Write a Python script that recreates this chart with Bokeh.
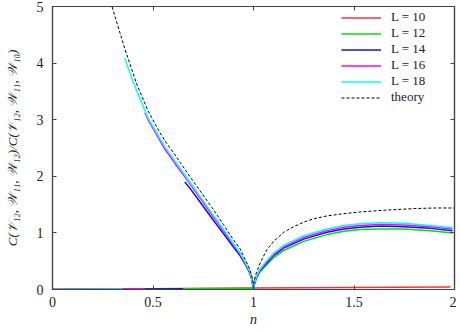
from bokeh.plotting import figure
from bokeh.models import Range1d, LinearAxis, FixedTicker, Legend, LegendItem
from bokeh.embed import file_html
from bokeh.resources import INLINE

# ---- data ----
x_ticks = [0, 0.5, 1, 1.5, 2]
x_tick_labels = ["0", "0.5", "1", "1.5", "2"]
y_ticks = [0, 1, 2, 3, 4, 5]
y_tick_labels = ["0", "1", "2", "3", "4", "5"]

theory_left_n = [0.28, 0.296, 0.33, 0.36, 0.42, 0.475, 0.52, 0.559, 0.617, 0.675,
                 0.733, 0.793, 0.85, 0.90, 0.933, 0.96, 0.98, 0.99, 0.997, 1.0]
theory_left_y = [5.25, 5.0, 4.6, 4.25, 3.62, 3.16, 2.86, 2.63, 2.34, 2.04,
                 1.75, 1.45, 1.15, 0.88, 0.72, 0.52, 0.37, 0.26, 0.15, 0.0]
theory_right_n = [1.0, 1.003, 1.01, 1.02, 1.04, 1.066, 1.1, 1.15, 1.2, 1.25,
                  1.3, 1.365, 1.45, 1.53, 1.65, 1.8, 1.9, 2.0]
theory_right_y = [0.0, 0.14, 0.25, 0.35, 0.52, 0.70, 0.85, 1.01, 1.11, 1.19,
                  1.25, 1.30, 1.34, 1.37, 1.40, 1.43, 1.44, 1.44]

right_n = [1.0, 1.005, 1.015, 1.03, 1.066, 1.1, 1.15, 1.25, 1.365, 1.45,
           1.53, 1.63, 1.75, 1.88, 1.99]

# L = 10
L10_low_n = [0.0, 1.0, 1.98]
L10_low_y = [0.0, 0.025, 0.045]

# L = 12
L12_low_n = [0.0, 1.0]
L12_low_y = [0.0, 0.02]
L12_right_y = [0.0, 0.10, 0.20, 0.30, 0.44, 0.56, 0.69, 0.85, 0.97, 1.03,
               1.06, 1.07, 1.07, 1.04, 1.00]

# L = 14
L14_low_n = [0.0, 0.65]
L14_low_y = [0.0, 0.015]
L14_left_n = [0.658, 0.675, 0.733, 0.793, 0.85, 0.90, 0.933, 0.96, 0.98, 0.99, 1.0]
L14_left_y = [1.90, 1.83, 1.55, 1.26, 0.99, 0.75, 0.60, 0.44, 0.30, 0.20, 0.0]
L14_right_y = [0.0, 0.11, 0.22, 0.32, 0.47, 0.60, 0.73, 0.89, 1.01, 1.07,
               1.10, 1.12, 1.11, 1.08, 1.04]

# L = 16
L16_low_n = [0.0, 0.46]
L16_low_y = [0.0, 0.012]
L16_left_n = [0.46, 0.475, 0.559, 0.617, 0.675, 0.733, 0.793, 0.85, 0.90, 0.933,
              0.96, 0.98, 0.99, 1.0]
L16_left_y = [3.13, 3.0, 2.48, 2.19, 1.91, 1.62, 1.32, 1.04, 0.79, 0.63,
              0.46, 0.32, 0.21, 0.0]
L16_right_y = [0.0, 0.11, 0.23, 0.33, 0.49, 0.62, 0.75, 0.92, 1.04, 1.10,
               1.13, 1.15, 1.14, 1.11, 1.07]

# L = 18
L18_low_n = [0.0, 0.35]
L18_low_y = [0.0, 0.01]
L18_left_n = [0.359, 0.40, 0.475, 0.559, 0.617, 0.675, 0.733, 0.793, 0.85, 0.90,
              0.933, 0.96, 0.98, 0.99, 1.0]
L18_left_y = [4.09, 3.68, 3.03, 2.52, 2.23, 1.94, 1.65, 1.35, 1.07, 0.81,
              0.65, 0.47, 0.33, 0.22, 0.0]
L18_right_y = [0.0, 0.12, 0.24, 0.35, 0.51, 0.64, 0.78, 0.95, 1.07, 1.13,
               1.16, 1.18, 1.17, 1.13, 1.09]

labels = ["L = 10", "L = 12", "L = 14", "L = 16", "L = 18", "theory"]
colors = ["#ff3030", "#00e000", "#1010e0", "#ff00ff", "#00ffff", "black"]

# ---- figure ----
FONT = "Liberation Serif"
AX = "#444444"
TXT = "#222222"

p = figure(width=456, height=332, output_backend="svg", toolbar_location=None,
           x_range=Range1d(0, 2), y_range=Range1d(0, 5),
           min_border_left=52, min_border_right=2, min_border_top=6, min_border_bottom=43)
p.background_fill_color = "white"
p.border_fill_color = "white"
p.grid.visible = False
p.outline_line_color = AX
p.outline_line_width = 1.2

def style_axis(ax, show_labels):
    ax.axis_line_color = AX
    ax.axis_line_width = 1.2
    ax.major_tick_line_color = AX
    ax.major_tick_in = 4
    ax.major_tick_out = 0
    ax.minor_tick_line_color = None
    ax.major_label_text_font = FONT
    if show_labels:
        ax.major_label_text_font_size = "14px"
        ax.major_label_text_color = TXT
    else:
        ax.major_label_text_font_size = "0px"
        ax.major_label_text_color = None
        ax.major_label_standoff = 0

xb = p.xaxis[0]
yl = p.yaxis[0]
xb.ticker = FixedTicker(ticks=x_ticks)
yl.ticker = FixedTicker(ticks=y_ticks)
xb.major_label_overrides = dict(zip(x_ticks, x_tick_labels))
yl.major_label_overrides = dict(zip(y_ticks, y_tick_labels))
style_axis(xb, True)
style_axis(yl, True)
xb.major_label_standoff = 7
yl.major_label_standoff = 9

xb.axis_label = "n"
xb.axis_label_text_font = FONT
xb.axis_label_text_font_style = "italic"
xb.axis_label_text_font_size = "14px"
xb.axis_label_text_color = TXT
xb.axis_label_standoff = 2

yl.axis_label = "C(\U0001D4B1\u2081\u2082, \U0001D4B2\u2081\u2081, \U0001D4B2\u2081\u2082)/C(\U0001D4B1\u2081\u2082, \U0001D4B2\u2081\u2081, \U0001D4B2\u2081\u2080)"
yl.axis_label_text_font = FONT
yl.axis_label_text_font_style = "italic"
yl.axis_label_text_font_size = "13px"
yl.axis_label_text_color = TXT
yl.axis_label_standoff = 14

xt = LinearAxis(ticker=FixedTicker(ticks=x_ticks))
style_axis(xt, False)
p.add_layout(xt, "above")
yr = LinearAxis(ticker=FixedTicker(ticks=y_ticks))
style_axis(yr, False)
p.add_layout(yr, "right")

# ---- data lines ----
r10 = p.multi_line(xs=[L10_low_n], ys=[L10_low_y], line_color=colors[0], line_width=1.5)
r12 = p.multi_line(xs=[L12_low_n, right_n], ys=[L12_low_y, L12_right_y],
                   line_color=colors[1], line_width=1.5)
r14 = p.multi_line(xs=[L14_low_n, L14_left_n, right_n], ys=[L14_low_y, L14_left_y, L14_right_y],
                   line_color=colors[2], line_width=1.5)
r16 = p.multi_line(xs=[L16_low_n, L16_left_n, right_n], ys=[L16_low_y, L16_left_y, L16_right_y],
                   line_color=colors[3], line_width=1.5)
r18 = p.multi_line(xs=[L18_low_n, L18_left_n, right_n], ys=[L18_low_y, L18_left_y, L18_right_y],
                   line_color=colors[4], line_width=1.5)
rth = p.multi_line(xs=[theory_left_n, theory_right_n], ys=[theory_left_y, theory_right_y],
                   line_color=colors[5], line_width=1, line_dash="3 2")

renderers = [r10, r12, r14, r16, r18, rth]
legend = Legend(items=[LegendItem(label=lab, renderers=[r]) for lab, r in zip(labels, renderers)],
                location=(289, 184), padding=4, spacing=0,
                glyph_width=40, glyph_height=13, label_height=13, label_standoff=10,
                label_text_font=FONT, label_text_font_size="13px", label_text_color=TXT,
                border_line_color=None, background_fill_alpha=0)
p.add_layout(legend)

open("out.html", "w").write(file_html(p, INLINE))
